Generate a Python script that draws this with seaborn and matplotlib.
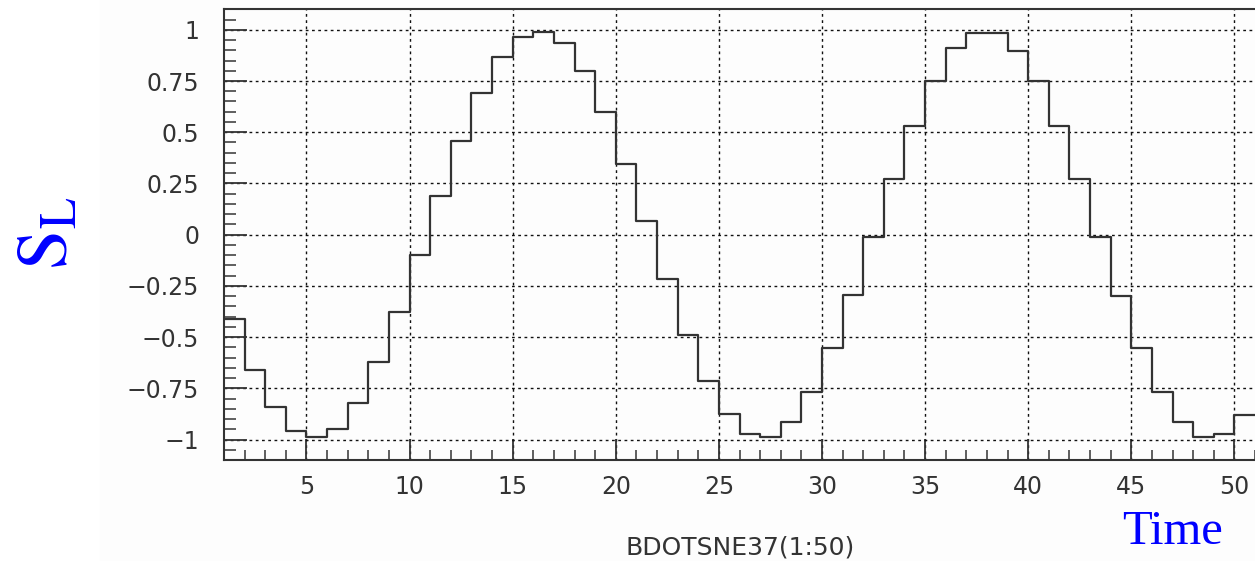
import numpy as np
import pandas as pd
import matplotlib
matplotlib.use("Agg")
import matplotlib.pyplot as plt
import seaborn as sns
from matplotlib.ticker import FixedLocator, FixedFormatter, MultipleLocator

# bin contents (bins 1..50, width 1)
bin_start = list(range(1, 51))
s_l = [-0.41, -0.66, -0.84, -0.96, -0.99, -0.95, -0.82, -0.62, -0.38, -0.10,
       0.19, 0.455, 0.69, 0.865, 0.965, 0.99, 0.935, 0.80, 0.60, 0.345,
       0.065, -0.215, -0.49, -0.715, -0.875, -0.975, -0.99, -0.915, -0.77, -0.555,
       -0.295, -0.01, 0.27, 0.53, 0.75, 0.91, 0.985, 0.985, 0.895, 0.75,
       0.53, 0.27, -0.01, -0.30, -0.555, -0.77, -0.915, -0.99, -0.975, -0.88]

x_ticks = [5, 10, 15, 20, 25, 30, 35, 40, 45, 50]
y_ticks = [-1, -0.75, -0.5, -0.25, 0, 0.25, 0.5, 0.75, 1]
y_tick_labels = ["\u22121", "\u22120.75", "\u22120.5", "\u22120.25", "0",
                 "0.25", "0.5", "0.75", "1"]

df = pd.DataFrame({"bin": np.array(bin_start) + 0.5, "s_l": s_l})

sns.set_style("white")
plt.rcParams["font.family"] = ["DejaVu Sans"]
plt.rcParams["mathtext.fontset"] = "stix"

W, H = 1255, 561
fig = plt.figure(figsize=(W / 100, H / 100), dpi=100)
fig.patches.append(plt.Rectangle((100 / W, 0), 1, 1, transform=fig.transFigure,
                                 color="#fdfdfd", zorder=-10))
ax = fig.add_axes([224 / W, 101 / H, 1031 / W, 450.7 / H])
ax.set_facecolor("none")

sns.histplot(data=df, x="bin", weights="s_l", binwidth=1, binrange=(1, 51),
             element="step", fill=False, color="#333333", linewidth=1.6, ax=ax)

ax.set_xlim(1, 51)
ax.set_ylim(-1.1, 1.1)
ax.set_xlabel("")
ax.set_ylabel("")

ax.xaxis.set_major_locator(FixedLocator(x_ticks))
ax.xaxis.set_minor_locator(MultipleLocator(1))
ax.yaxis.set_major_locator(FixedLocator(y_ticks))
ax.yaxis.set_major_formatter(FixedFormatter(y_tick_labels))
ax.yaxis.set_minor_locator(MultipleLocator(0.05))

ax.tick_params(axis="both", which="both", direction="in", color="#333333",
               labelcolor="#333333", labelsize=17, bottom=True, left=True,
               top=False, right=False)
ax.tick_params(axis="x", which="major", length=15, width=1.3, pad=11)
ax.tick_params(axis="x", which="minor", length=7, width=1.1)
ax.tick_params(axis="y", which="major", length=16.5, width=1.3, pad=18)
ax.tick_params(axis="y", which="minor", length=8.5, width=1.1)

ax.grid(True, which="major", color="#111111", linestyle=(0, (2, 2.5)), linewidth=1.0)
ax.set_axisbelow(True)

for side in ["left", "bottom", "top"]:
    ax.spines[side].set_visible(True)
    ax.spines[side].set_color("#333333")
    ax.spines[side].set_linewidth(1.5)
ax.spines["right"].set_visible(False)

fig.text(47.5 / W, 1 - 233.5 / H, r"$\mathrm{S}_{\mathrm{L}}$", rotation=90,
         ha="center", va="center", fontsize=52, color="#0000ff")
fig.text(1122 / W, 1 - 532 / H, "Time", ha="left", va="center",
         family=["Liberation Serif", "DejaVu Serif"], fontsize=35, color="#0000ff")
fig.text(740 / W, 1 - 548 / H, "BDOTSNE37(1:50)", ha="center", va="center",
         fontsize=18, color="#333333")

fig.savefig("out.png", dpi=100)
